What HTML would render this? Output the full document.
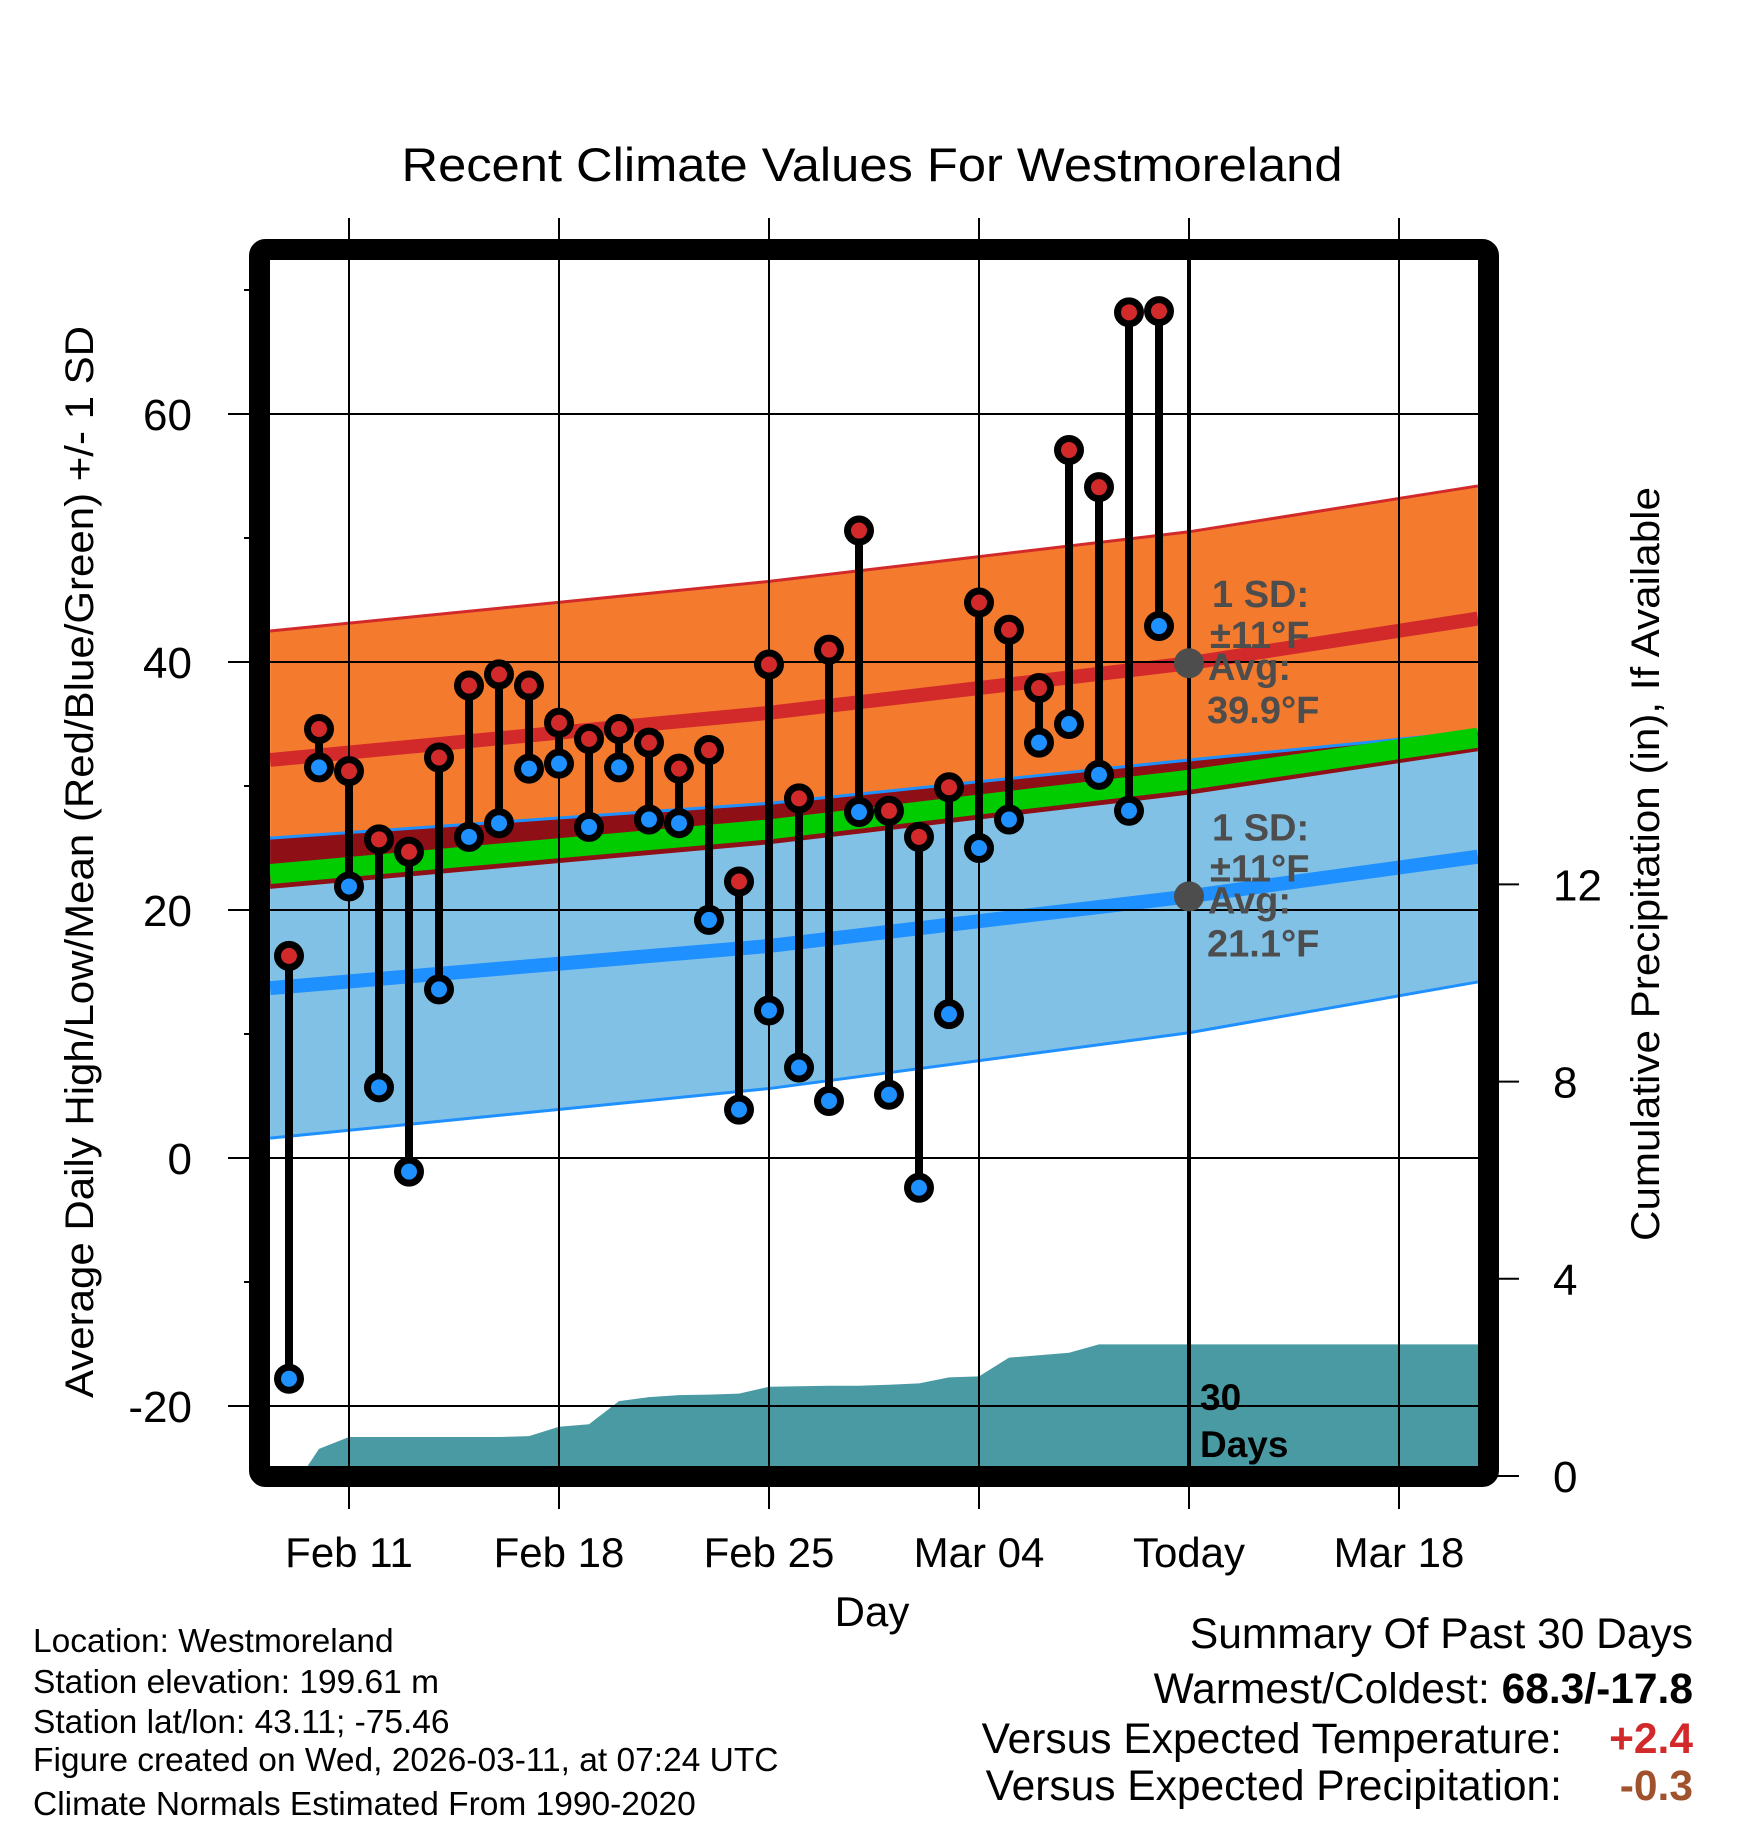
<!DOCTYPE html>
<html><head><meta charset="utf-8"><style>
html,body{margin:0;padding:0;background:#fff}
svg{display:block;font-family:"Liberation Sans",sans-serif}
</style></head><body>
<svg id="chart" width="1748" height="1828" viewBox="0 0 1748 1828" xmlns="http://www.w3.org/2000/svg">
<defs><clipPath id="plotclip"><rect x="270" y="260" width="1208" height="1206"/></clipPath></defs>
<text x="872" y="181" font-size="47" text-anchor="middle" textLength="941" lengthAdjust="spacingAndGlyphs">Recent Climate Values For Westmoreland</text>
<g id="grid"></g>
<g id="plot" clip-path="url(#plotclip)"></g>
<rect x="259.5" y="249.5" width="1229" height="1227" fill="none" stroke="#000" stroke-width="21" rx="6"/>
<g id="axes"></g>
<text transform="translate(93,862) rotate(-90)" font-size="40" text-anchor="middle" textLength="1072" lengthAdjust="spacingAndGlyphs">Average Daily High/Low/Mean (Red/Blue/Green) +/- 1 SD</text>
<text transform="translate(1659,864) rotate(-90)" font-size="40" text-anchor="middle" textLength="754" lengthAdjust="spacingAndGlyphs">Cumulative Precipitation (in), If Available</text>
<text x="872" y="1626" font-size="42" text-anchor="middle">Day</text>
<g font-size="33.5">
<text x="33" y="1652">Location: Westmoreland</text>
<text x="33" y="1693">Station elevation: 199.61 m</text>
<text x="33" y="1733">Station lat/lon: 43.11; -75.46</text>
<text x="33" y="1771">Figure created on Wed, 2026-03-11, at 07:24 UTC</text>
<text x="33" y="1815">Climate Normals Estimated From 1990-2020</text>
</g>
<g font-size="42.5" text-anchor="end">
<text x="1693" y="1648">Summary Of Past 30 Days</text>
<text x="1693" y="1703">Warmest/Coldest: <tspan font-weight="bold">68.3/-17.8</tspan></text>
<text x="1562" y="1753">Versus Expected Temperature:</text>
<text x="1693" y="1753" font-weight="bold" fill="#d22a2a">+2.4</text>
<text x="1562" y="1800">Versus Expected Precipitation:</text>
<text x="1693" y="1800" font-weight="bold" fill="#a0522d">-0.3</text>
</g>
</svg>
<script>
// day offsets relative to Feb 11
const normDays = [-2.63, 14, 28, 37.63];
const highNorm = [32.1, 35.9, 39.9, 43.5];
const highSD = [10.4, 10.6, 10.6, 10.7];
const lowNorm = [13.7, 17.1, 21.1, 24.3];
const lowSD = [12.1, 11.5, 11.0, 10.1];
const obsHigh = [16.3,34.6,31.2,25.7,24.7,32.3,38.1,39.0,38.1,35.1,33.8,34.6,33.5,31.4,32.9,22.3,39.8,29.0,41.0,50.6,28.0,25.9,29.9,44.8,42.6,37.9,57.1,54.1,68.2,68.3];
const obsLow = [-17.8,31.5,21.9,5.7,-1.1,13.6,25.9,27.0,31.4,31.8,26.7,31.5,27.3,27.0,19.2,3.9,11.9,7.3,4.6,27.9,5.1,-2.4,11.6,25.0,27.3,33.5,35.0,30.9,28.0,42.9];
const precipCum = [0,0.55,0.79,0.79,0.79,0.79,0.79,0.79,0.81,1.0,1.05,1.52,1.6,1.64,1.65,1.67,1.81,1.82,1.83,1.83,1.85,1.88,2.0,2.02,2.4,2.45,2.5,2.67,2.67,2.67];
const xTickLabels = ["Feb 11","Feb 18","Feb 25","Mar 04","Today","Mar 18"];
const xTickDays = [0,7,14,21,28,35];
const yTicks = [60,40,20,0,-20];
const yMinor = [70,50,30,10,-10];
const y2Ticks = [0,4,8,12];
const todayHigh = 39.9, todayLow = 21.1, todaySD = 11;
const firstObsDay = -2;

const NS = "http://www.w3.org/2000/svg";
const X = d => 349 + 30 * d;
const Y = t => 1158 - 12.4 * t;
const Y2 = p => 1476 - 49.3 * p;
function mk(tag, attrs, parent) {
  const e = document.createElementNS(NS, tag);
  for (const k in attrs) e.setAttribute(k, attrs[k]);
  parent.appendChild(e); return e;
}
const plot = document.getElementById('plot');
const grid = document.getElementById('grid');
const axes = document.getElementById('axes');

function seq(fn) { return normDays.map((d, i) => [X(d), Y(fn(i))]); }
function poly(top, bot, fill, name) {
  const pts = top.concat(bot.slice().reverse()).map(p => p.join(',')).join(' ');
  const e = mk('polygon', {points: pts, fill: fill}, plot);
  
  
}
function line(pts, stroke, w, name) {
  const e = mk('polyline', {points: pts.map(p => p.join(',')).join(' '), fill: 'none', stroke: stroke, 'stroke-width': w}, plot);
  
  
}
const hU = seq(i => highNorm[i] + highSD[i]), hL = seq(i => highNorm[i] - highSD[i]);
const lU = seq(i => lowNorm[i] + lowSD[i]), lL = seq(i => lowNorm[i] - lowSD[i]);
poly(hU, lU, '#f47b2e', 'high-sd-band');
poly(lU, lL, '#82c1e6', 'low-sd-band');
const ovTop = seq(i => Math.max(lowNorm[i] + lowSD[i], highNorm[i] - highSD[i]));
poly(ovTop, hL, '#8e0f16', 'overlap-band');
line(hU, '#d22a2a', 3, 'high-upper-line');
line(lU, '#1e90ff', 3, 'low-upper-line');
line(lL, '#1e90ff', 3, 'low-lower-line');
line(seq(i => highNorm[i]), '#d22a2a', 14, 'normal-high-line');
line(seq(i => lowNorm[i]), '#1e90ff', 14, 'normal-low-line');
line(seq(i => (highNorm[i] + lowNorm[i]) / 2), '#00cc00', 20, 'normal-mean-line');

// precip area
let pp = [[X(firstObsDay + 0.4), Y2(0)]];
precipCum.forEach((v, i) => { if (i > 0) pp.push([X(firstObsDay + i), Y2(v)]); });
pp.push([1480, Y2(precipCum[precipCum.length - 1])], [1480, 1480], [X(firstObsDay + 0.4), 1480]);
const pa = mk('polygon', {points: pp.map(p => p.join(',')).join(' '), fill: '#4a9aa4'}, plot);



// gridlines
yTicks.forEach(t => {
  const g = mk('line', {x1: 270, x2: 1478, y1: Y(t), y2: Y(t), stroke: '#000', 'stroke-width': 2}, plot);
  
  
  const tk = mk('line', {x1: 228, x2: 252, y1: Y(t), y2: Y(t), stroke: '#000', 'stroke-width': 2}, axes);
  
  
  const lb = mk('text', {x: 192, y: Y(t) + 16, 'font-size': 44, 'text-anchor': 'end'}, axes);
  lb.textContent = t;
  
  
});
yMinor.forEach(t => {
  const tk = mk('line', {x1: 244, x2: 252, y1: Y(t), y2: Y(t), stroke: '#000', 'stroke-width': 2}, axes);
  
  
});
xTickDays.forEach((d, i) => {
  const g = mk('line', {x1: X(d), x2: X(d), y1: 218, y2: 1509, stroke: '#000', 'stroke-width': 2}, grid);
  
  
  const lb = mk('text', {x: X(d), y: 1567, 'font-size': 42, 'text-anchor': 'middle'}, axes);
  lb.textContent = xTickLabels[i];
  
  
});
xTickDays.forEach(d => {
  const g = mk('line', {x1: X(d), x2: X(d), y1: 260, y2: 1466, stroke: '#000', 'stroke-width': 2}, plot);
  
  
});
y2Ticks.forEach(p => {
  const tk = mk('line', {x1: 1497, x2: 1519, y1: Y2(p), y2: Y2(p), stroke: '#000', 'stroke-width': 2}, axes);
  
  
  const lb = mk('text', {x: 1553, y: Y2(p) + 16, 'font-size': 44}, axes);
  lb.textContent = p;
  
  
});

// today line
const tl = mk('line', {x1: X(28), x2: X(28), y1: 260, y2: 1466, stroke: '#000', 'stroke-width': 4}, plot);



// observations
obsHigh.forEach((h, i) => {
  const x = X(firstObsDay + i);
  const st = mk('line', {x1: x, x2: x, y1: Y(h), y2: Y(obsLow[i]), stroke: '#000', 'stroke-width': 8}, plot);
  
  
  const c1 = mk('circle', {cx: x, cy: Y(h), r: 11.5, fill: '#d22a2a', stroke: '#000', 'stroke-width': 7}, plot);
  
  
  const c2 = mk('circle', {cx: x, cy: Y(obsLow[i]), r: 11.5, fill: '#1e90ff', stroke: '#000', 'stroke-width': 7}, plot);
  
  
});

// today markers and annotations
[[todayHigh, 'high'], [todayLow, 'low']].forEach(([v, n]) => {
  const c = mk('circle', {cx: X(28), cy: Y(v), r: 15, fill: '#4d4d4d'}, plot);
  
  
  const lines = ['1 SD:', '\u00b1' + todaySD + '\u00b0F', 'Avg:', v.toFixed(1) + '\u00b0F'];
  const offs = [-56, -15, 17, 60];
  const dx = [1212, 1210, 1208, 1207];
  lines.forEach((s, k) => {
    const t = mk('text', {x: dx[k], y: Y(v) + offs[k], 'font-size': 38, 'font-weight': 'bold', fill: '#4d4d4d'}, axes);
    t.textContent = s;
    
    
  });
});
const d1 = mk('text', {x: 1200, y: 1410, 'font-size': 37, 'font-weight': 'bold'}, axes);
d1.textContent = '30';


const d2 = mk('text', {x: 1200, y: 1457, 'font-size': 37, 'font-weight': 'bold'}, axes);
d2.textContent = 'Days';


</script>
</body></html>
